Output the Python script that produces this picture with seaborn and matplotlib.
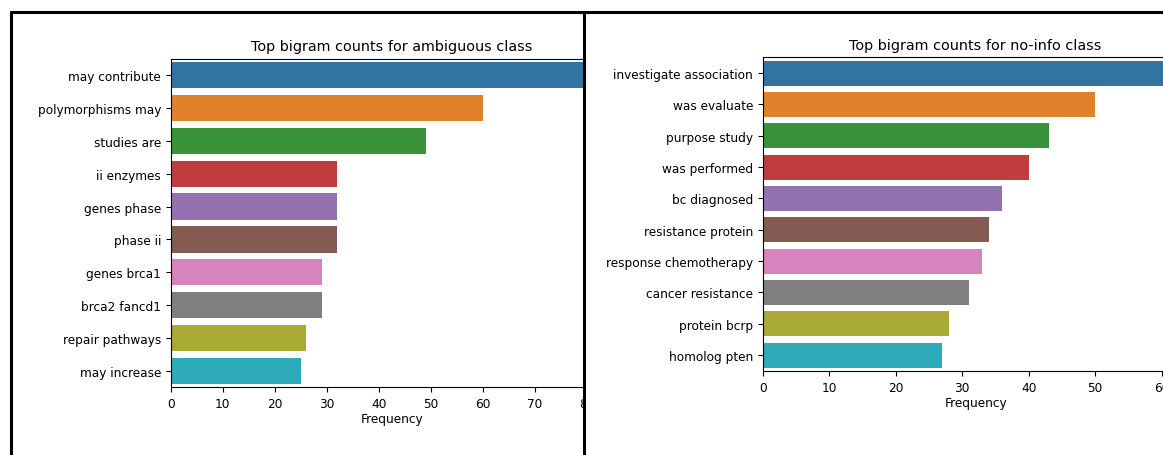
import matplotlib
matplotlib.use("Agg")
import matplotlib.pyplot as plt
import seaborn as sns
import pandas as pd
from matplotlib.lines import Line2D
from matplotlib.patches import Rectangle

# ---- data ----
amb_bigrams = ["may contribute", "polymorphisms may", "studies are", "ii enzymes",
               "genes phase", "phase ii", "genes brca1", "brca2 fancd1",
               "repair pathways", "may increase"]
amb_counts = [81, 60, 49, 32, 32, 32, 29, 29, 26, 25]

noinfo_bigrams = ["investigate association", "was evaluate", "purpose study",
                  "was performed", "bc diagnosed", "resistance protein",
                  "response chemotherapy", "cancer resistance", "protein bcrp",
                  "homolog pten"]
noinfo_counts = [61, 50, 43, 40, 36, 34, 33, 31, 28, 27]

W, H = 1163, 456
plt.rcParams['font.family'] = ['DejaVu Sans']
fig = plt.figure(figsize=(W / 100, H / 100), dpi=100)


def px_axes(x0, y_top, x1, y_bot, z):
    return fig.add_axes([x0 / W, 1 - y_bot / H, (x1 - x0) / W, (y_bot - y_top) / H], zorder=z)


TICK = 8.7
TITLE = 10.4

# left panel
df_a = pd.DataFrame({"bigram": amb_bigrams, "count": amb_counts})
ax1 = px_axes(170.7, 59.6, 170.7 + 5.204 * max(amb_counts) * 1.05, 388.4, 0)
sns.barplot(data=df_a, x="count", y="bigram", hue="bigram", palette="tab10",
            legend=False, ax=ax1)
ax1.set_title("Top bigram counts for ambiguous class", fontsize=TITLE)
ax1.set_xlabel("Frequency", fontsize=TICK, labelpad=1.5)
ax1.set_ylabel("")
ax1.tick_params(labelsize=TICK)

# white cover for clipped part of the left panel
fig.add_artist(Rectangle((583 / W, 0), 1 - 583 / W, 1, transform=fig.transFigure,
                         facecolor="white", edgecolor="none", zorder=1))

# right panel
df_n = pd.DataFrame({"bigram": noinfo_bigrams, "count": noinfo_counts})
ax2 = px_axes(762.7, 58.4, 762.7 + 6.65 * max(noinfo_counts) * 1.05, 371.8, 2)
sns.barplot(data=df_n, x="count", y="bigram", hue="bigram", palette="tab10",
            legend=False, ax=ax2)
ax2.set_title("Top bigram counts for no-info class", fontsize=TITLE)
ax2.set_xlabel("Frequency", fontsize=TICK, labelpad=1.5)
ax2.set_ylabel("")
ax2.tick_params(labelsize=TICK)

# panel borders
lw = 2.2
def fline(xs, ys):
    fig.add_artist(Line2D([x / W for x in xs], [1 - y / H for y in ys],
                          transform=fig.transFigure, color="black", lw=lw,
                          zorder=5, solid_capstyle="butt"))

fline([9.5, 1163], [13, 13])
fline([10.5, 10.5], [12, 456])
fline([583.8, 583.8], [12, 456])

fig.savefig("out.png", dpi=100)
